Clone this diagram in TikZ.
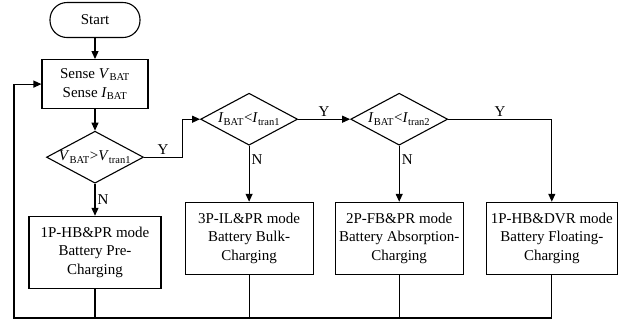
\documentclass[tikz,border=0pt]{standalone}
\usepackage{fontspec}
\setmainfont{Liberation Serif}
\usetikzlibrary{arrows.meta, positioning, shapes.geometric}
\newcommand{\batq}[2]{\textit{#1}\textsubscript{#2}}

\begin{document}
\begin{tikzpicture}[
    node distance=21pt,
    every node/.style={font=\fontsize{15}{18.5}\selectfont},
    term/.style={draw, rounded corners=17pt, minimum width=90pt, minimum height=35pt, line width=1.1pt},
    box/.style={draw, align=center, minimum height=72pt, inner sep=2pt, line width=1.1pt},
    diam/.style={draw, diamond, aspect=1.87, inner xsep=-8pt, inner ysep=0pt, minimum width=97pt, minimum height=52pt, line width=1.1pt},
    lbl/.style={inner sep=2pt},
    arr/.style={-{Triangle[length=8pt, width=7pt]}, line width=1.1pt},
    ln/.style={line width=1.1pt}
]
    \useasboundingbox (0,0) rectangle (620pt,-325pt);

    \node[term] (start) at (95pt,-20pt) {Start};
    \node[box, minimum width=106pt, minimum height=49pt, below=21pt of start] (sense) {Sense \batq{V}{BAT}\\Sense \batq{I}{BAT}};
    \node[diam, below=21.5pt of sense] (d1) {\batq{V}{BAT}>\batq{V}{tran1}};

    \node[diam, right=56pt of d1, yshift=38pt] (d2) {\batq{I}{BAT}<\batq{I}{tran1}};
    \node[diam, right=52pt of d2] (d3) {\batq{I}{BAT}<\batq{I}{tran2}};

    \node[box, minimum width=132pt, below=32pt of d1] (pre) {1P-HB\&PR mode\\Battery Pre-\\Charging};
    \node[box, minimum width=128pt, below=56pt of d2] (bulk) {3P-IL\&PR mode\\Battery Bulk-\\Charging};
    \node[box, minimum width=128pt, below=56pt of d3] (abs) {2P-FB\&PR mode\\Battery Absorption-\\Charging};
    \node[box, minimum width=131pt, right=22pt of abs] (flt) {1P-HB\&DVR mode\\Battery Floating-\\Charging};

    \coordinate (fb) at (14pt,-318pt);

    \draw[arr] (start) -- (sense);
    \draw[arr] (sense) -- (d1);
    \draw[arr] (d1.east) -- ++(38pt,0) node[lbl, midway, above] {Y} |- (d2.west);
    \draw[arr] (d1.south) -- node[lbl, right] {N} (pre.north);
    \draw[arr] (d2.east) -- node[lbl, above] {Y} (d3.west);
    \draw[arr] (d2.south) -- node[lbl, right, pos=0.25] {N} (bulk.north);
    \draw[arr] (d3.east) -| node[lbl, above, pos=0.25] {Y} (flt.north);
    \draw[arr] (d3.south) -- node[lbl, right, pos=0.25] {N} (abs.north);

    \draw[ln] (pre.south) -- (pre.south |- fb);
    \draw[ln] (bulk.south) -- (bulk.south |- fb);
    \draw[ln] (abs.south) -- (abs.south |- fb);
    \draw[arr] (flt.south) |- (fb) |- (sense.west);
\end{tikzpicture}
\end{document}
